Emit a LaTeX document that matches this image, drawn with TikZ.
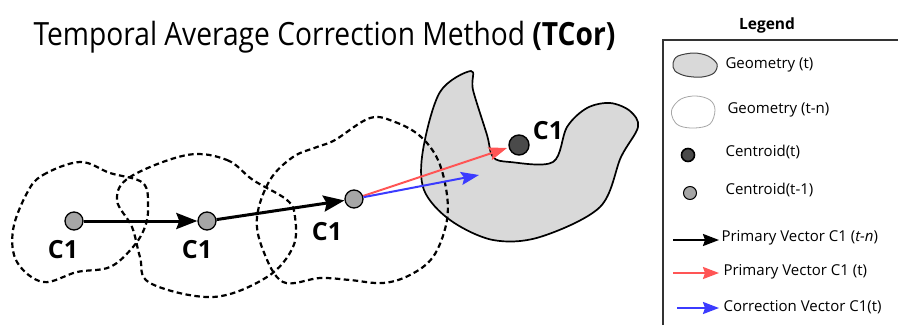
\documentclass[tikz,border=0pt]{standalone}
\usepackage{fontspec}
\setmainfont{Open Sans}
\newfontfamily\titlefont[FakeStretch=0.88]{Open Sans}
\usetikzlibrary{arrows.meta}
\definecolor{geomfill}{HTML}{D9D9D9}
\definecolor{centlight}{HTML}{A6A6A6}
\definecolor{centdark}{HTML}{4A4A4A}
\definecolor{vecred}{HTML}{FF5555}
\definecolor{vecblue}{HTML}{3B3BFF}
\begin{document}
\begin{tikzpicture}[x=1pt,y=-1pt,
  oldgeom/.style={draw,line width=2.2pt,dash pattern=on 5.5pt off 3.5pt},
  newgeom/.style={draw,line width=1.7pt,fill=geomfill},
  oldcent/.style={circle,draw,line width=1.3pt,fill=centlight,minimum size=18pt,inner sep=0pt},
  newcent/.style={circle,draw,line width=1.4pt,fill=centdark,minimum size=20pt,inner sep=0pt},
  clabel/.style={font=\fontsize{25}{28}\selectfont\bfseries},
  legtext/.style={anchor=west,font=\fontsize{15}{18}\selectfont},
  primvec/.style={line width=3pt,-{Stealth[length=21pt,width=16pt,inset=3pt]}},
  redvec/.style={line width=2pt,vecred,-{Stealth[length=18pt,width=13pt,inset=3pt]}},
  bluevec/.style={line width=2pt,vecblue,-{Stealth[length=18pt,width=13pt,inset=3pt]}}]
  \useasboundingbox (0,0) rectangle (898,325);
  \node[anchor=base west,font=\titlefont\fontsize{32}{36}\selectfont] (title) at (30,45)
    {Temporal Average Correction Method \textbf{(TCor)}};

  \draw[newgeom] plot[smooth cycle,tension=0.55] coordinates {(471,71) (440,92) (423,150) (424,190)
    (450,220) (493,240) (540,237) (600,207) (621,157) (638,127) (630,111) (610,103) (587,108)
    (567,127) (553,162) (510,162) (493,157) (487,135) (473,90)};
  \draw[oldgeom] plot[smooth cycle,tension=0.6] coordinates {(27,193) (43,175) (80,162) (110,173)
    (143,183) (148,207) (145,227) (133,247) (110,267) (77,272) (43,282) (17,262) (13,230)};
  \draw[oldgeom] plot[smooth cycle,tension=0.6] coordinates {(187,155) (227,160) (253,180) (287,200)
    (295,217) (293,247) (267,277) (213,297) (150,283) (140,257) (132,227) (117,200) (130,177)};
  \draw[oldgeom] plot[smooth cycle,tension=0.6] coordinates {(370,118) (395,122) (420,136) (438,160)
    (447,195) (446,225) (433,257) (410,275) (383,283) (350,280) (320,278) (283,282) (263,250)
    (257,217) (270,180) (293,157) (317,147) (335,140)};

  \node[oldcent] (c1a) at (74,221) {};
  \node[oldcent] (c1b) at (207,221) {};
  \node[oldcent] (c1c) at (354,199) {};
  \node[newcent] (c1t) at (519,145) {};
  \node[clabel] (lab1) at (63,250) {C1};
  \node[clabel] (lab2) at (197,250) {C1};
  \node[clabel] (lab3) at (327,232) {C1};
  \node[clabel] (labt) at (548,131) {C1};

  \coordinate (redtip) at (507,148);
  \coordinate (bluetip) at (479,175);
  \draw[primvec] (c1a) -- (c1b);
  \draw[primvec] (c1b) -- (c1c);
  \draw[redvec] (c1c) -- (redtip);
  \draw[bluevec] (c1c) -- (bluetip);

  \node[font=\fontsize{15.5}{18}\selectfont\bfseries] (legtitle) at (767,25) {Legend};
  \draw[line width=1.5pt,draw=black!80] (663,325) -- (663,40) -- (898,40);
  \draw[line width=1pt,draw=black!75,fill=geomfill] plot[smooth cycle,tension=0.55] coordinates
    {(673,63) (678,56) (694,53) (708,56) (717,64) (714,73) (702,77) (686,76) (675,71)};
  \draw[line width=0.8pt,draw=black!35] plot[smooth cycle,tension=0.6] coordinates
    {(672,109) (681,99) (696,96) (710,100) (715,110) (710,124) (695,128) (680,126) (673,119)};
  \node[circle,draw,line width=1.6pt,fill=centdark,minimum width=12pt,minimum height=13pt,
    inner sep=0pt] (legnew) at (688,155) {};
  \node[circle,draw,line width=1pt,fill=centlight,minimum size=13pt,inner sep=0pt]
    (legold) at (690,193) {};
  \coordinate (blackA) at (673,240);
  \coordinate (blackB) at (719,240);
  \coordinate (redA) at (673,273);
  \coordinate (redB) at (719,273);
  \coordinate (blueA) at (677,308);
  \coordinate (blueB) at (719,308);
  \draw[line width=2pt,-{Stealth[length=16pt,width=12pt,inset=2pt]}] (blackA) -- (blackB);
  \draw[line width=2pt,vecred,-{Stealth[length=16pt,width=12pt,inset=2pt]}] (redA) -- (redB);
  \draw[line width=2pt,vecblue,-{Stealth[length=16pt,width=12pt,inset=2pt]}] (blueA) -- (blueB);
  \node[legtext] (txtgeom) at (722,65) {Geometry (t)};
  \node[legtext] (txtold) at (724,110) {Geometry (t-n)};
  \node[legtext] (txtnew) at (722,152) {Centroid(t)};
  \node[legtext] (txtcold) at (722,190) {Centroid(t-1)};
  \node[legtext] (txtblack) at (718,238) {Primary Vector C1 (\textit{t-n})};
  \node[legtext] (txtred) at (720,272) {Primary Vector C1 (t)};
  \node[legtext] (txtblue) at (720,307) {Correction Vector C1(t)};
\end{tikzpicture}
\end{document}
